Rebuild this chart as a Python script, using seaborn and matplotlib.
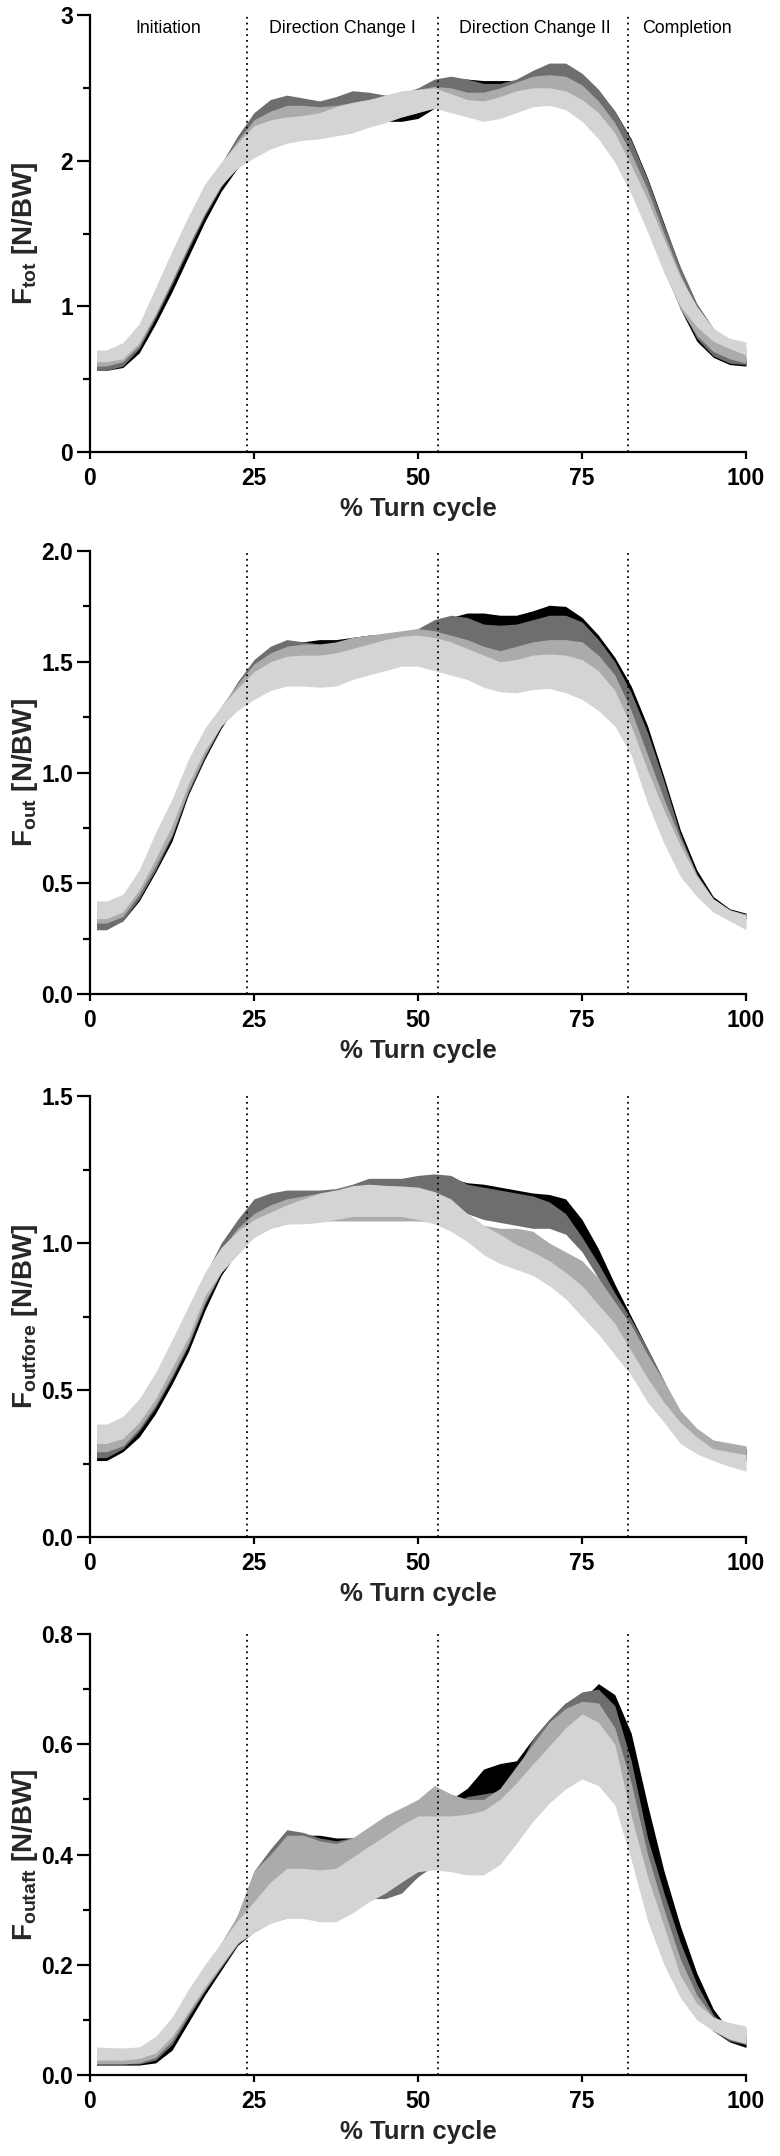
import numpy as np
import pandas as pd
import matplotlib
matplotlib.use("Agg")
import matplotlib.pyplot as plt
import seaborn as sns
from matplotlib.ticker import MultipleLocator, FormatStrFormatter, NullLocator

# ---------------- data ----------------
X = [1, 2.5, 5, 7.5, 10, 12.5, 15, 17.5, 20, 22.5, 25, 27.5, 30, 32.5, 35, 37.5, 40,
     42.5, 45, 47.5, 50, 52.5, 55, 57.5, 60, 62.5, 65, 67.5, 70, 72.5, 75, 77.5, 80,
     82.5, 85, 87.5, 90, 92.5, 95, 97.5, 100]

GROUPS = ["g1", "g2", "g3", "g4"]
COLORS = ["#000000", "#6e6e6e", "#ababab", "#d4d4d4"]

PHASE_BOUNDS = [24, 53, 82]
PHASE_NAMES = ["Initiation", "Direction Change I", "Direction Change II", "Completion"]
PHASE_CENTERS = [12, 38.5, 67.8, 91]

# ---- F_tot ----
FTOT_G1_LO = [0.56,0.56,0.58,0.68,0.88,1.10,1.34,1.58,1.79,1.95,2.06,2.12,2.16,2.18,2.20,2.22,2.24,2.26,2.27,2.27,2.29,2.36,2.40,2.40,2.38,2.40,2.44,2.48,2.50,2.48,2.38,2.26,2.10,1.88,1.60,1.28,0.98,0.76,0.65,0.60,0.59]
FTOT_G1_HI = [0.62,0.62,0.65,0.78,1.00,1.24,1.49,1.73,1.95,2.14,2.30,2.38,2.40,2.40,2.38,2.40,2.42,2.42,2.40,2.42,2.47,2.53,2.56,2.56,2.55,2.55,2.55,2.60,2.64,2.64,2.58,2.48,2.34,2.15,1.88,1.57,1.26,1.00,0.83,0.70,0.63]
FTOT_G2_LO = [0.56,0.56,0.59,0.71,0.92,1.15,1.39,1.62,1.82,1.97,2.07,2.14,2.18,2.20,2.22,2.24,2.25,2.27,2.29,2.30,2.33,2.38,2.42,2.42,2.40,2.42,2.45,2.50,2.52,2.50,2.40,2.28,2.12,1.90,1.62,1.30,1.00,0.78,0.66,0.61,0.60]
FTOT_G2_HI = [0.63,0.63,0.66,0.80,1.04,1.29,1.54,1.78,1.98,2.17,2.33,2.42,2.45,2.43,2.41,2.44,2.48,2.47,2.45,2.46,2.50,2.56,2.58,2.56,2.53,2.53,2.56,2.62,2.67,2.67,2.60,2.49,2.34,2.14,1.87,1.56,1.27,1.02,0.85,0.72,0.65]
FTOT_G3_LO = [0.59,0.59,0.62,0.73,0.94,1.17,1.41,1.64,1.84,1.97,2.05,2.12,2.16,2.18,2.20,2.22,2.24,2.26,2.28,2.31,2.34,2.37,2.35,2.32,2.30,2.32,2.36,2.40,2.41,2.39,2.32,2.20,2.04,1.82,1.55,1.24,0.98,0.80,0.69,0.64,0.61]
FTOT_G3_HI = [0.66,0.66,0.70,0.83,1.06,1.31,1.56,1.80,1.98,2.14,2.28,2.34,2.38,2.38,2.37,2.38,2.40,2.42,2.44,2.47,2.49,2.51,2.50,2.47,2.47,2.50,2.54,2.58,2.59,2.58,2.52,2.41,2.26,2.05,1.80,1.50,1.22,0.98,0.83,0.75,0.72]
FTOT_G4_LO = [0.62,0.62,0.64,0.75,0.95,1.18,1.42,1.64,1.83,1.95,2.02,2.08,2.12,2.14,2.15,2.17,2.19,2.23,2.26,2.30,2.33,2.36,2.33,2.30,2.27,2.29,2.33,2.37,2.38,2.35,2.27,2.15,1.99,1.77,1.51,1.23,1.00,0.86,0.76,0.71,0.665]
FTOT_G4_HI = [0.70,0.70,0.75,0.88,1.13,1.38,1.62,1.84,1.99,2.12,2.24,2.28,2.30,2.31,2.33,2.37,2.40,2.42,2.45,2.48,2.49,2.50,2.46,2.42,2.41,2.44,2.48,2.50,2.50,2.48,2.42,2.33,2.19,1.97,1.73,1.46,1.20,1.00,0.85,0.78,0.755]

# ---- F_out ----
FOUT_G1_LO = [0.30,0.30,0.33,0.42,0.55,0.69,0.90,1.06,1.20,1.31,1.40,1.45,1.48,1.48,1.48,1.48,1.50,1.52,1.53,1.54,1.55,1.56,1.58,1.60,1.60,1.59,1.59,1.61,1.63,1.62,1.58,1.50,1.40,1.26,1.05,0.82,0.62,0.49,0.40,0.36,0.34]
FOUT_G1_HI = [0.34,0.34,0.37,0.48,0.62,0.78,0.98,1.14,1.28,1.40,1.50,1.56,1.59,1.59,1.60,1.60,1.61,1.62,1.625,1.63,1.64,1.68,1.70,1.72,1.72,1.71,1.71,1.73,1.755,1.75,1.70,1.62,1.52,1.39,1.21,0.98,0.74,0.56,0.44,0.385,0.365]
FOUT_G2_LO = [0.29,0.29,0.33,0.43,0.56,0.71,0.91,1.07,1.21,1.32,1.40,1.45,1.48,1.48,1.48,1.48,1.50,1.52,1.53,1.54,1.55,1.54,1.52,1.49,1.47,1.46,1.47,1.49,1.50,1.49,1.47,1.42,1.34,1.20,0.99,0.78,0.60,0.48,0.40,0.36,0.34]
FOUT_G2_HI = [0.35,0.35,0.38,0.49,0.64,0.80,1.00,1.16,1.29,1.41,1.51,1.57,1.60,1.59,1.58,1.58,1.61,1.62,1.625,1.63,1.65,1.69,1.71,1.70,1.67,1.665,1.67,1.69,1.71,1.71,1.68,1.60,1.50,1.36,1.18,0.96,0.72,0.54,0.43,0.38,0.36]
FOUT_G3_LO = [0.32,0.32,0.35,0.45,0.58,0.72,0.92,1.08,1.21,1.30,1.37,1.42,1.44,1.44,1.44,1.45,1.47,1.49,1.51,1.52,1.52,1.50,1.48,1.45,1.42,1.40,1.41,1.43,1.44,1.43,1.41,1.36,1.28,1.13,0.92,0.72,0.56,0.46,0.39,0.35,0.33]
FOUT_G3_HI = [0.38,0.38,0.41,0.51,0.67,0.83,1.02,1.17,1.30,1.40,1.49,1.54,1.57,1.58,1.58,1.59,1.61,1.62,1.63,1.64,1.65,1.64,1.62,1.60,1.57,1.55,1.57,1.59,1.60,1.60,1.59,1.53,1.44,1.28,1.08,0.88,0.70,0.54,0.43,0.38,0.36]
FOUT_G4_LO = [0.34,0.34,0.37,0.47,0.61,0.76,0.95,1.10,1.21,1.28,1.33,1.37,1.39,1.39,1.385,1.39,1.42,1.44,1.46,1.48,1.48,1.46,1.44,1.42,1.385,1.365,1.36,1.375,1.38,1.36,1.33,1.28,1.21,1.08,0.86,0.68,0.53,0.44,0.37,0.33,0.29]
FOUT_G4_HI = [0.42,0.42,0.45,0.56,0.73,0.88,1.06,1.20,1.30,1.38,1.455,1.50,1.525,1.53,1.53,1.54,1.56,1.58,1.60,1.615,1.62,1.61,1.59,1.56,1.53,1.50,1.51,1.53,1.535,1.53,1.51,1.46,1.37,1.21,1.01,0.83,0.67,0.53,0.43,0.38,0.355]

# ---- F_outfore ----
FFORE_G1_LO = [0.26,0.26,0.29,0.34,0.42,0.52,0.63,0.77,0.89,0.97,1.04,1.07,1.09,1.10,1.10,1.11,1.12,1.13,1.13,1.13,1.13,1.13,1.12,1.11,1.10,1.09,1.08,1.07,1.07,1.06,1.00,0.90,0.79,0.69,0.58,0.46,0.36,0.31,0.28,0.27,0.26]
FFORE_G1_HI = [0.32,0.32,0.35,0.42,0.51,0.62,0.74,0.87,0.99,1.07,1.14,1.16,1.17,1.17,1.17,1.18,1.19,1.20,1.21,1.21,1.22,1.225,1.22,1.205,1.20,1.19,1.18,1.17,1.165,1.15,1.08,0.98,0.86,0.75,0.64,0.53,0.42,0.36,0.32,0.31,0.30]
FFORE_G2_LO = [0.27,0.27,0.30,0.36,0.44,0.54,0.65,0.79,0.90,0.98,1.04,1.07,1.09,1.10,1.10,1.11,1.12,1.13,1.13,1.13,1.13,1.13,1.12,1.10,1.08,1.07,1.06,1.05,1.05,1.03,0.97,0.88,0.78,0.68,0.57,0.46,0.36,0.31,0.28,0.27,0.26]
FFORE_G2_HI = [0.33,0.33,0.36,0.44,0.53,0.64,0.76,0.89,1.00,1.08,1.15,1.17,1.18,1.18,1.18,1.185,1.20,1.22,1.22,1.22,1.23,1.235,1.23,1.20,1.19,1.18,1.17,1.16,1.14,1.10,1.02,0.93,0.83,0.74,0.64,0.53,0.42,0.36,0.32,0.31,0.30]
FFORE_G3_LO = [0.29,0.29,0.31,0.37,0.45,0.55,0.66,0.80,0.90,0.97,1.02,1.05,1.065,1.07,1.075,1.075,1.075,1.075,1.075,1.075,1.075,1.07,1.06,1.04,1.00,0.97,0.95,0.93,0.90,0.86,0.81,0.75,0.68,0.60,0.51,0.43,0.35,0.31,0.28,0.27,0.26]
FFORE_G3_HI = [0.35,0.35,0.38,0.45,0.54,0.65,0.77,0.89,0.98,1.05,1.10,1.13,1.15,1.16,1.17,1.18,1.19,1.19,1.19,1.19,1.18,1.16,1.14,1.10,1.06,1.05,1.05,1.04,1.00,0.97,0.94,0.88,0.80,0.72,0.62,0.53,0.43,0.37,0.33,0.32,0.31]
FFORE_G4_LO = [0.318,0.318,0.335,0.39,0.47,0.575,0.68,0.82,0.90,0.96,1.02,1.05,1.065,1.065,1.07,1.08,1.09,1.09,1.09,1.09,1.08,1.065,1.04,1.005,0.96,0.93,0.91,0.89,0.855,0.81,0.75,0.69,0.62,0.55,0.458,0.39,0.318,0.283,0.26,0.24,0.224]
FFORE_G4_HI = [0.384,0.384,0.41,0.47,0.56,0.67,0.785,0.90,0.985,1.04,1.08,1.105,1.13,1.15,1.17,1.18,1.195,1.20,1.196,1.194,1.19,1.175,1.15,1.10,1.06,1.03,0.995,0.97,0.94,0.90,0.855,0.79,0.727,0.633,0.54,0.458,0.39,0.34,0.30,0.29,0.28]

# ---- F_outaft ----
FAFT_G1_LO = [0.018,0.018,0.018,0.018,0.022,0.045,0.095,0.145,0.19,0.235,0.26,0.28,0.30,0.30,0.30,0.30,0.31,0.32,0.33,0.34,0.36,0.39,0.42,0.45,0.47,0.49,0.51,0.54,0.57,0.60,0.62,0.63,0.60,0.49,0.35,0.24,0.165,0.115,0.08,0.06,0.05]
FAFT_G1_HI = [0.035,0.035,0.035,0.036,0.045,0.08,0.13,0.175,0.225,0.28,0.36,0.40,0.435,0.435,0.435,0.43,0.43,0.44,0.45,0.46,0.47,0.49,0.50,0.52,0.555,0.565,0.57,0.61,0.645,0.675,0.68,0.71,0.69,0.62,0.49,0.37,0.27,0.185,0.12,0.08,0.065]
FAFT_G2_LO = [0.02,0.02,0.02,0.02,0.027,0.055,0.105,0.152,0.195,0.237,0.26,0.29,0.30,0.31,0.31,0.31,0.315,0.32,0.32,0.33,0.36,0.38,0.40,0.42,0.43,0.45,0.48,0.52,0.56,0.59,0.61,0.61,0.57,0.46,0.33,0.23,0.16,0.11,0.08,0.062,0.055]
FAFT_G2_HI = [0.04,0.04,0.04,0.042,0.055,0.09,0.14,0.185,0.235,0.29,0.37,0.41,0.445,0.44,0.43,0.425,0.43,0.44,0.45,0.46,0.47,0.48,0.49,0.505,0.51,0.515,0.55,0.61,0.645,0.675,0.695,0.70,0.67,0.57,0.43,0.33,0.24,0.165,0.11,0.08,0.07]
FAFT_G3_LO = [0.02,0.02,0.02,0.022,0.032,0.062,0.11,0.155,0.197,0.238,0.27,0.30,0.32,0.32,0.315,0.315,0.33,0.35,0.37,0.39,0.41,0.42,0.42,0.42,0.42,0.44,0.47,0.51,0.55,0.58,0.60,0.59,0.54,0.43,0.31,0.22,0.155,0.11,0.085,0.068,0.06]
FAFT_G3_HI = [0.045,0.045,0.045,0.048,0.065,0.10,0.15,0.195,0.24,0.29,0.37,0.40,0.435,0.435,0.425,0.42,0.43,0.45,0.47,0.485,0.50,0.525,0.51,0.50,0.50,0.52,0.56,0.60,0.64,0.665,0.678,0.675,0.63,0.53,0.40,0.30,0.21,0.145,0.105,0.09,0.085]
FAFT_G4_LO = [0.027,0.027,0.027,0.03,0.04,0.07,0.115,0.16,0.20,0.24,0.258,0.275,0.284,0.284,0.278,0.278,0.294,0.314,0.33,0.35,0.369,0.372,0.369,0.363,0.363,0.382,0.42,0.46,0.493,0.519,0.537,0.525,0.49,0.39,0.28,0.20,0.14,0.10,0.08,0.065,0.057]
FAFT_G4_HI = [0.051,0.05,0.049,0.051,0.07,0.105,0.155,0.20,0.24,0.28,0.315,0.35,0.375,0.375,0.372,0.375,0.395,0.415,0.434,0.454,0.47,0.47,0.47,0.473,0.48,0.50,0.53,0.564,0.597,0.63,0.655,0.64,0.60,0.47,0.36,0.27,0.18,0.13,0.105,0.095,0.089]

X_TICKS = [0, 25, 50, 75, 100]
XLABEL = "% Turn cycle"

PANELS = [
    dict(ylabel=r"$\mathbf{F}_{\mathbf{tot}}$ [N/BW]", ymax=3.0, major=1.0, minor=0.5, fmt="%d",
         lo=[FTOT_G1_LO, FTOT_G2_LO, FTOT_G3_LO, FTOT_G4_LO],
         hi=[FTOT_G1_HI, FTOT_G2_HI, FTOT_G3_HI, FTOT_G4_HI], top=15, bot=452),
    dict(ylabel=r"$\mathbf{F}_{\mathbf{out}}$ [N/BW]", ymax=2.0, major=0.5, minor=0.25, fmt="%.1f",
         lo=[FOUT_G1_LO, FOUT_G2_LO, FOUT_G3_LO, FOUT_G4_LO],
         hi=[FOUT_G1_HI, FOUT_G2_HI, FOUT_G3_HI, FOUT_G4_HI], top=551, bot=994),
    dict(ylabel=r"$\mathbf{F}_{\mathbf{outfore}}$ [N/BW]", ymax=1.5, major=0.5, minor=0.25, fmt="%.1f",
         lo=[FFORE_G1_LO, FFORE_G2_LO, FFORE_G3_LO, FFORE_G4_LO],
         hi=[FFORE_G1_HI, FFORE_G2_HI, FFORE_G3_HI, FFORE_G4_HI], top=1096, bot=1537),
    dict(ylabel=r"$\mathbf{F}_{\mathbf{outaft}}$ [N/BW]", ymax=0.8, major=0.2, minor=0.1, fmt="%.1f",
         lo=[FAFT_G1_LO, FAFT_G2_LO, FAFT_G3_LO, FAFT_G4_LO],
         hi=[FAFT_G1_HI, FAFT_G2_HI, FAFT_G3_HI, FAFT_G4_HI], top=1634, bot=2075),
]

# ---------------- style ----------------
sns.set_theme(style="ticks")
plt.rcParams["font.family"] = ["Liberation Sans", "DejaVu Sans"]
plt.rcParams["mathtext.fontset"] = "custom"
plt.rcParams["mathtext.rm"] = "Liberation Sans"
plt.rcParams["mathtext.bf"] = "Liberation Sans:bold"
plt.rcParams["mathtext.it"] = "Liberation Sans:italic"
plt.rcParams["axes.edgecolor"] = "black"
plt.rcParams["xtick.color"] = "black"
plt.rcParams["ytick.color"] = "black"

W_PX, H_PX = 780, 2156
LEFT_PX, RIGHT_PX = 90, 746

fig = plt.figure(figsize=(W_PX / 100, H_PX / 100), dpi=100)

for i, p in enumerate(PANELS):
    ax = fig.add_axes([LEFT_PX / W_PX, 1 - p["bot"] / H_PX,
                       (RIGHT_PX - LEFT_PX) / W_PX, (p["bot"] - p["top"]) / H_PX])
    rows = []
    for g, lo, hi in zip(GROUPS, p["lo"], p["hi"]):
        for xv, a, b in zip(X, lo, hi):
            rows.append((xv, a, g))
            rows.append((xv, b, g))
    df = pd.DataFrame(rows, columns=["x", "y", "group"])
    sns.lineplot(data=df, x="x", y="y", hue="group", hue_order=GROUPS, palette=COLORS,
                 errorbar=("pi", 100), linewidth=0, legend=False, ax=ax,
                 err_kws=dict(alpha=1, linewidth=0))

    for b in PHASE_BOUNDS:
        ax.axvline(b, color="black", lw=1.3, linestyle=(0, (1, 2.2)), zorder=5)

    ax.set_xlim(0, 100)
    ax.set_ylim(0, p["ymax"])
    ax.set_xticks(X_TICKS)
    ax.xaxis.set_minor_locator(NullLocator())
    ax.yaxis.set_major_locator(MultipleLocator(p["major"]))
    ax.yaxis.set_minor_locator(MultipleLocator(p["minor"]))
    ax.yaxis.set_major_formatter(FormatStrFormatter(p["fmt"]))

    for s in ["top", "right"]:
        ax.spines[s].set_visible(False)
    for s in ["left", "bottom"]:
        ax.spines[s].set_linewidth(1.6)
        ax.spines[s].set_color("black")

    ax.tick_params(axis="y", which="major", direction="out", length=9.5, width=1.6, pad=2.5,
                   labelsize=16.5)
    ax.tick_params(axis="y", which="minor", direction="out", length=5, width=1.6)
    ax.tick_params(axis="x", which="major", direction="out", length=5, width=1.6, pad=5.5,
                   labelsize=16.5)
    for lab in ax.get_xticklabels() + ax.get_yticklabels():
        lab.set_fontweight("bold")

    ax.set_xlabel(XLABEL, fontsize=18.5, fontweight="bold", labelpad=5)
    ax.set_ylabel(p["ylabel"], fontsize=20, fontweight="bold")
    ax.yaxis.set_label_coords(-0.076, 0.5)
    ax.set_facecolor("white")

    if i == 0:
        for name, xc in zip(PHASE_NAMES, PHASE_CENTERS):
            ax.text(xc, 2.91, name, ha="center", va="center", fontsize=12.8, color="black")

fig.savefig("out.png", dpi=100, facecolor="white")
